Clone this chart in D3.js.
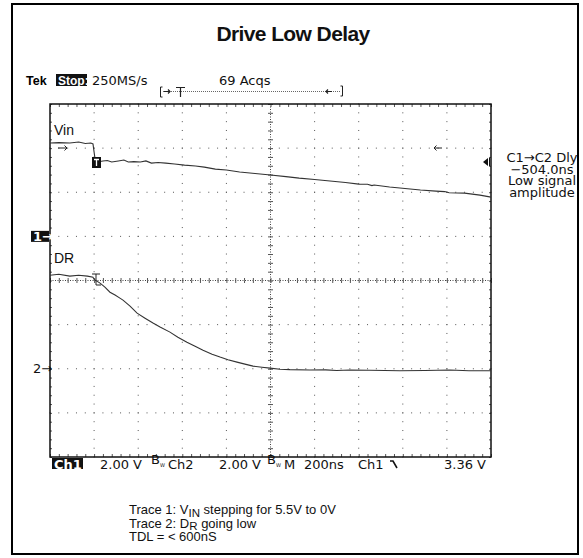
<!DOCTYPE html>
<html><head><meta charset="utf-8">
<script src="https://cdn.jsdelivr.net/npm/d3@7"></script>
<style>
body{margin:0;background:#fff}
.scope{font-family:"DejaVu Sans",sans-serif;font-size:13px;fill:#111}
.arial{font-family:"Liberation Sans",Arial,sans-serif}
</style>
</head><body>
<svg id="c" width="583" height="558"></svg>
<script>
// ---- data ----
const title = "Drive Low Delay";
const vinTime = [0,40,90,130,160,185,195,200,205,215,240,260,280,310,335,355,380,410,435,460,490,525,565,610,660,700,750,800,860,930,1000,1070,1130,1200,1270,1340,1400,1440,1460,1470,1540,1610,1680,1750,1790,1810,1880,1950,2000];
const vinVolts = [4.23,4.25,4.23,4.28,4.21,4.23,4.19,3.82,3.46,3.37,3.42,3.44,3.37,3.42,3.46,3.37,3.39,3.37,3.42,3.32,3.35,3.32,3.28,3.23,3.19,3.14,3.05,3.01,2.92,2.85,2.78,2.71,2.64,2.58,2.51,2.44,2.37,2.36,2.30,2.33,2.24,2.17,2.10,2.05,2.03,1.98,1.96,1.87,1.78];
const drTime = [0,40,90,130,170,195,200,227,249,272,295,317,331,363,395,431,467,499,544,580,621,658,694,735,771,807,848,884,921,961,998,1043,1088,1179,1250,1300,1361,1450,1587,1700,1814,1900,2000];
const drVolts = [4.24,4.28,4.20,4.24,4.20,4.15,4.05,3.88,3.70,3.47,3.34,3.20,3.11,2.84,2.52,2.29,2.07,1.89,1.66,1.43,1.20,1.02,0.84,0.66,0.53,0.41,0.30,0.21,0.12,0.07,0.03,-0.02,-0.04,-0.06,-0.05,-0.08,-0.06,-0.07,-0.09,-0.08,-0.06,-0.09,-0.09];
const headerLabels = ["250MS/s","69 Acqs"];
const bottomLabels = ["2.00 V","Ch2","2.00 V","M","200ns","Ch1","3.36 V"];
const sideLabels = ["C1\u2192C2 Dly","\u2212504.0ns","Low signal","amplitude"];
const noteLines = ["Trace 1: ","Trace 2: ","TDL = < 600nS"];

// ---- layout ----
const svg = d3.select("#c");
const L=50,R=491,T=104,B=457;
const x = d3.scaleLinear().domain([0,2000]).range([L,R]);
const y1 = d3.scaleLinear().domain([-10,6]).range([B,T]);
const y2 = d3.scaleLinear().domain([-4,12]).range([B,T]);
const yDiv = d3.scaleLinear().domain([0,8]).range([T,B]);

// outer border
svg.append("rect").attr("x",12).attr("y",4).attr("width",566).attr("height",550)
  .attr("fill","none").attr("stroke","#000").attr("stroke-width",2);

svg.append("text").attr("class","arial").attr("x",293).attr("y",41).attr("text-anchor","middle")
  .attr("font-size",21).attr("font-weight","bold").attr("letter-spacing",-0.6).attr("fill","#111").text(title);

// header
svg.append("text").attr("class","arial").attr("x",26).attr("y",85).attr("font-size",12.5).attr("font-weight","bold").text("Tek");
svg.append("rect").attr("x",56).attr("y",74).attr("width",31).attr("height",12).attr("fill","#111");
svg.append("text").attr("class","arial").attr("x",58).attr("y",84.5).attr("font-size",12).attr("font-weight","bold").attr("fill","#fff").text("Stop:");
svg.append("text").attr("class","scope").attr("x",92).attr("y",85).attr("font-size",14).text(headerLabels[0]);
svg.append("text").attr("class","scope").attr("x",219).attr("y",85).attr("font-size",14).text(headerLabels[1]);

// record bracket
const bg = svg.append("g").attr("stroke","#222").attr("fill","none");
bg.append("path").attr("d","M162.5,87 L160.5,87 L160.5,97 L162.5,97");
bg.append("path").attr("d","M340.5,86 L342.5,86 L342.5,96 L340.5,96");
bg.append("line").attr("x1",163).attr("x2",340).attr("y1",91.5).attr("y2",91.5).attr("stroke-dasharray","1,1").attr("stroke","#666");
bg.append("path").attr("d","M164,91.5 L170,91.5 M168,89.5 L170,91.5 L168,93.5").attr("stroke-width",1.2);
bg.append("path").attr("d","M176,87.5 L185,87.5 M180.5,87.5 L180.5,97").attr("stroke-width",1.2);
bg.append("path").attr("d","M332,91.5 L326,91.5 M328,89.5 L326,91.5 L328,93.5").attr("stroke-width",1.2);

// grid
const grid = svg.append("g").attr("fill","#555");
const minorX = d3.range(0,2001,40), minorY = d3.range(0,8.001,0.2);
for (let i=1;i<10;i++){ if(i===5) continue;
  minorY.forEach(v=>grid.append("rect").attr("x",x(i*200)-0.5).attr("y",yDiv(v)-0.5).attr("width",1).attr("height",1)); }
for (let j=1;j<8;j++){ if(j===4) continue;
  minorX.forEach(v=>grid.append("rect").attr("x",x(v)-0.5).attr("y",yDiv(j)-0.5).attr("width",1).attr("height",1)); }
// center lines
svg.append("line").attr("x1",x(1000)).attr("x2",x(1000)).attr("y1",T).attr("y2",B).attr("stroke","#444").attr("stroke-dasharray","1,1.5");
svg.append("line").attr("x1",L).attr("x2",R).attr("y1",yDiv(4)).attr("y2",yDiv(4)).attr("stroke","#444").attr("stroke-dasharray","1,1.5");
const tickStyle = g=>{g.selectAll("text").remove();g.select(".domain").remove();g.selectAll("line").attr("stroke","#555");};
svg.append("g").attr("transform",`translate(${x(1000)},0)`).call(d3.axisLeft(yDiv).tickValues(minorY).tickSize(2.5)).call(tickStyle);
svg.append("g").attr("transform",`translate(${x(1000)},0)`).call(d3.axisRight(yDiv).tickValues(minorY).tickSize(2.5)).call(tickStyle);
svg.append("g").attr("transform",`translate(0,${yDiv(4)})`).call(d3.axisTop(x).tickValues(minorX).tickSize(2.5)).call(tickStyle);
svg.append("g").attr("transform",`translate(0,${yDiv(4)})`).call(d3.axisBottom(x).tickValues(minorX).tickSize(2.5)).call(tickStyle);
// frame ticks
svg.append("g").attr("transform",`translate(0,${T})`).call(d3.axisTop(x).tickValues(minorX).tickSize(-3)).call(tickStyle);
svg.append("g").attr("transform",`translate(0,${B})`).call(d3.axisBottom(x).tickValues(minorX).tickSize(-3)).call(tickStyle);
svg.append("g").attr("transform",`translate(${L},0)`).call(d3.axisLeft(yDiv).tickValues(minorY).tickSize(-2)).call(tickStyle);
svg.append("g").attr("transform",`translate(${R},0)`).call(d3.axisRight(yDiv).tickValues(minorY).tickSize(-2)).call(tickStyle);
// frame
svg.append("rect").attr("x",L).attr("y",T).attr("width",R-L).attr("height",B-T).attr("fill","none").attr("stroke","#111").attr("stroke-width",1.5);

// traces
const line1 = d3.line().x((d,i)=>x(vinTime[i])).y((d,i)=>y1(vinVolts[i]));
const line2 = d3.line().x((d,i)=>x(drTime[i])).y((d,i)=>y2(drVolts[i]));
svg.append("path").datum(vinVolts).attr("d",line1).attr("fill","none").attr("stroke","#333").attr("stroke-width",1.1);
svg.append("path").datum(drVolts).attr("d",line2).attr("fill","none").attr("stroke","#333").attr("stroke-width",1.1);

// trace labels & markers
svg.append("text").attr("class","arial").attr("x",54).attr("y",135).attr("font-size",14).attr("fill","#111").text("Vin");
svg.append("text").attr("class","arial").attr("x",54).attr("y",263).attr("font-size",14).attr("fill","#111").text("DR");
svg.append("rect").attr("x",92).attr("y",157).attr("width",9).attr("height",11).attr("fill","#111");
svg.append("path").attr("d","M94,159.5 L99,159.5 M96.5,159.5 L96.5,166").attr("stroke","#fff").attr("stroke-width",1.3);
svg.append("path").attr("d","M92,274 L100,274 M96,274 L96,285 L101,285").attr("stroke","#222").attr("fill","none").attr("stroke-width",1);
svg.append("path").attr("d","M58,148 L67,148 M64.5,145.5 L67,148 L64.5,150.5").attr("stroke","#222").attr("fill","none");
svg.append("path").attr("d","M442,148 L434,148 M436.5,145.5 L434,148 L436.5,150.5").attr("stroke","#222").attr("fill","none");
svg.append("path").attr("d","M483,162 L488,158 L488,166 Z").attr("fill","#111");
svg.append("line").attr("x1",489.5).attr("x2",489.5).attr("y1",158).attr("y2",166).attr("stroke","#111");
// channel ground markers
svg.append("rect").attr("x",31).attr("y",y1(0)-5.5).attr("width",18).attr("height",11).attr("fill","#111");
svg.append("text").attr("class","scope").attr("x",33).attr("y",y1(0)+4.5).attr("font-size",12).style("fill","#fff").attr("font-weight","bold").text("1\u2192");
svg.append("text").attr("class","scope").attr("x",33).attr("y",y2(0)+4.5).attr("font-size",13).text("2\u2192");

// bottom status line
svg.append("rect").attr("x",52).attr("y",458).attr("width",31).attr("height",11).attr("fill","#111");
svg.append("text").attr("class","scope").attr("x",54).attr("y",468.5).style("fill","#fff").attr("font-weight","bold").text("Ch1");
const bx = [100,168,219,284,304,358,444];
bottomLabels.forEach((t,i)=>svg.append("text").attr("class","scope").attr("x",bx[i]).attr("y",469).text(t));
[151,267].forEach(p=>{
  const t=svg.append("text").attr("class","scope").attr("x",p).attr("y",464).attr("font-size",6).text("B");
  t.append("tspan").attr("dy",2.5).attr("font-size",5).text("W");
});
svg.append("path").attr("d","M390,461 L393,461 L397,468").attr("stroke","#111").attr("fill","none").attr("stroke-width",1.6);

// side readout
sideLabels.forEach((t,i)=>svg.append("text").attr("class","scope").attr("x",542).attr("y",162+i*11.5).attr("text-anchor","middle").attr("font-size",12.5).text(t));

// notes
const notes = svg.append("g").attr("class","arial").attr("font-size",13).attr("fill","#111");
const n1 = notes.append("text").attr("x",129).attr("y",514);
n1.append("tspan").text(noteLines[0]+"V");
n1.append("tspan").attr("dy",2.5).attr("font-size",11.5).text("IN");
n1.append("tspan").attr("dy",-2.5).text(" stepping for 5.5V to 0V");
const n2 = notes.append("text").attr("x",129).attr("y",527.5);
n2.append("tspan").text(noteLines[1]+"D");
n2.append("tspan").attr("dy",2.5).attr("font-size",11.5).text("R");
n2.append("tspan").attr("dy",-2.5).text(" going low");
notes.append("text").attr("x",129).attr("y",541).text(noteLines[2]);
</script>
</body></html>
